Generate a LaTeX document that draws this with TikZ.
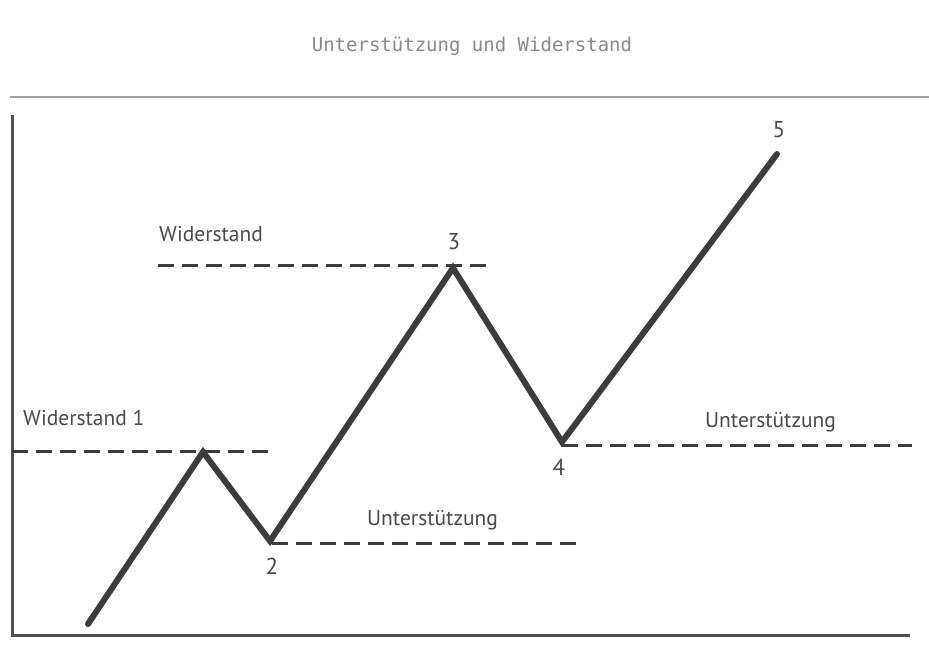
\documentclass[tikz,border=0pt]{standalone}
\usepackage{fontspec}
\setmainfont{PT Sans}
\newfontfamily\titlefont{DejaVu Sans Mono}
\definecolor{ink}{HTML}{3C3C3C}
\definecolor{txt}{HTML}{4A4A4A}
\definecolor{ttl}{HTML}{8A8A8A}
\definecolor{rule}{HTML}{A0A0A0}
\begin{document}
\begin{tikzpicture}[x=1pt,y=-1pt,
  zig/.style={draw=ink,line width=6pt,line join=miter,line cap=round},
  level/.style={draw=ink,line width=3pt,dash pattern=on 16pt off 8pt},
  axis/.style={draw=ink!90,line width=3pt},
  lbl/.style={font=\fontsize{21.5}{24}\selectfont,text=txt,inner sep=0pt},
  num/.style={font=\fontsize{23}{25}\selectfont,text=txt,inner sep=0pt}]
\useasboundingbox (0,0) rectangle (929,648);
\fill[white] (0,0) rectangle (929,648);
% title
\node[font=\titlefont\fontsize{19}{22}\selectfont,text=ttl,inner sep=0pt] (title) at (472,46) {Unterstützung und Widerstand};
% top rule
\coordinate (r1) at (10,97);
\coordinate (r2) at (929,97);
\draw[rule,line width=1.5pt] (r1) -- (r2);
% axes
\coordinate (o) at (12,635);
\coordinate (ytop) at (12,115);
\coordinate (xend) at (910,635);
\draw[axis] (ytop) -- (o) -- (xend);
% dashed levels
\coordinate (w1a) at (12,451);  \coordinate (w1b) at (275,451);
\coordinate (wa) at (158,265);  \coordinate (wb) at (487,265);
\coordinate (u1a) at (272,543); \coordinate (u1b) at (580,543);
\coordinate (u2a) at (562,445); \coordinate (u2b) at (912,445);
\draw[level] (w1a) -- (w1b);
\draw[level] (wa) -- (wb);
\draw[level] (u1a) -- (u1b);
\draw[level] (u2a) -- (u2b);
% zigzag
\coordinate (p0) at (88,624);
\coordinate (p1) at (203,452);
\coordinate (p2) at (270,541);
\coordinate (p3) at (453,268);
\coordinate (p4) at (562,442);
\coordinate (p5) at (777,154);
\draw[zig] (p0) -- (p1) -- (p2) -- (p3) -- (p4) -- (p5);
% labels
\node[lbl,anchor=west] (lw1) at (23,418) {Widerstand 1};
\node[lbl,anchor=west] (lw) at (159,234) {Widerstand};
\node[lbl,anchor=west] (lu1) at (367,520) {Unterstützung};
\node[lbl,anchor=west] (lu2) at (705,422) {Unterstützung};
\node[num] (n2) at (272,566) {2};
\node[num] (n3) at (454,242) {3};
\node[num] (n4) at (559,467) {4};
\node[num] (n5) at (779,130) {5};
\end{tikzpicture}
\end{document}
